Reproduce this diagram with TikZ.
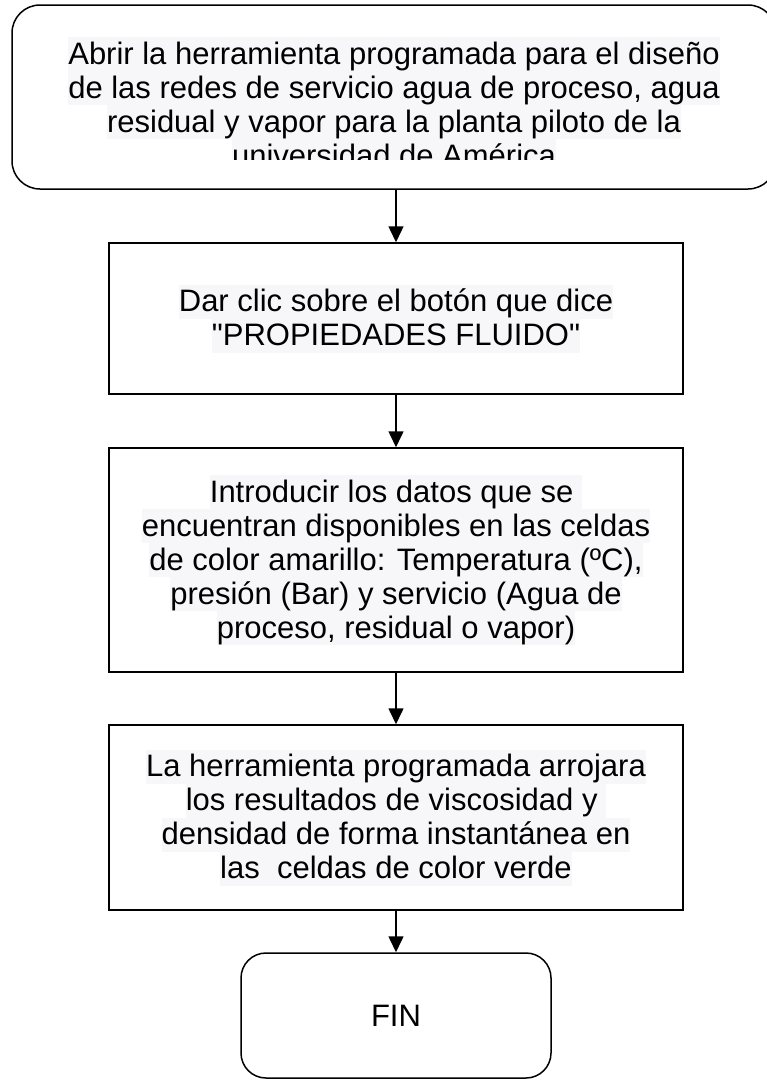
\documentclass[tikz,border=0pt]{standalone}
\usepackage{fontspec}
\setmainfont{Liberation Sans}[Ligatures=TeXOff]
\usetikzlibrary{arrows.meta}
\definecolor{textbg}{RGB}{247,247,250}
\newcommand\hl[1]{{\setlength{\fboxsep}{0pt}\colorbox{textbg}{\rule[-7pt]{0pt}{34pt}#1}}}
\tikzset{
  boxline/.style={draw=black, line width=1.5pt},
  rbox/.style={boxline, rounded corners=28pt, inner sep=0pt},
  sbox/.style={boxline, inner sep=0pt, minimum width=574pt},
  txt/.style={align=center, inner sep=0pt, font=\fontsize{31}{34}\selectfont},
  conn/.style={line width=1.5pt, -{Triangle[width=15pt,length=16pt]}}
}
\begin{document}
\begin{tikzpicture}[x=1pt,y=1pt]
\useasboundingbox (0,0) rectangle (767,-1080);
% top rounded box
\node[rbox, minimum width=764pt, minimum height=184pt] (n1) at (394,-97) {};
\begin{scope}
\clip (0,-5) rectangle (767,-159);
\node[txt, anchor=north] (t1) at (394,-37) {\hl{Abrir la herramienta programada para el diseño}\\
\hl{de las redes de servicio agua de proceso, agua}\\
\hl{residual y vapor para la planta piloto de la}\\
\hl{universidad de América}};
\end{scope}
% step boxes
\node[sbox, minimum height=151pt] (n2) at (396,-318.5) {};
\node[txt] (t2) at (n2) {\hl{Dar clic sobre el botón que dice}\\
\hl{"PROPIEDADES FLUIDO"}};
\node[sbox, minimum height=224pt] (n3) at (396,-560) {};
\node[txt] (t3) at (n3) {\hl{Introducir los datos que se\ }\\
\hl{encuentran disponibles en las celdas}\\
\hl{de color amarillo: Temperatura (ºC),}\\
\hl{presión (Bar) y servicio (Agua de}\\
\hl{proceso, residual o vapor)}};
\node[sbox, minimum height=185pt] (n4) at (396,-817.5) {};
\node[txt] (t4) at (n4) {\hl{La herramienta programada arrojara}\\
\hl{los resultados de viscosidad y\ }\\
\hl{densidad de forma instantánea en}\\
\hl{las\ \ celdas de color verde}};
\node[rbox, rounded corners=25pt, minimum width=310pt, minimum height=125pt, font=\fontsize{31}{34}\selectfont] (n5) at (396,-1015.5) {FIN};
% connectors
\draw[conn] (n2.north |- n1.south) -- (n2.north);
\draw[conn] (n2.south) -- (n3.north);
\draw[conn] (n3.south) -- (n4.north);
\draw[conn] (n4.south) -- (n5.north);
\end{tikzpicture}
\end{document}
